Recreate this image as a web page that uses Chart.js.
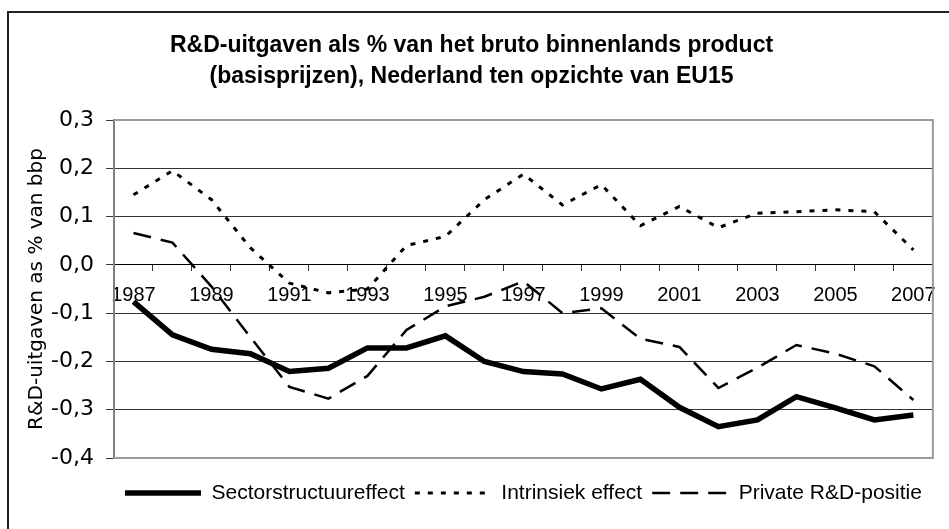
<!DOCTYPE html>
<html>
<head>
<meta charset="utf-8">
<script src="https://cdn.jsdelivr.net/npm/chart.js@4/dist/chart.umd.min.js"></script>
<style>
  body { margin: 0; background: #fff; }
  #wrap { width: 949px; height: 529px; position: relative; }
</style>
</head>
<body>
<div id="wrap"><canvas id="rdChart"></canvas></div>
<script>
const years = ["1987", "1988", "1989", "1990", "1991", "1992", "1993", "1994", "1995", "1996", "1997",
  "1998", "1999", "2000", "2001", "2002", "2003", "2004", "2005", "2006", "2007"];
const sectorEffect = [-0.076, -0.145, -0.175, -0.184, -0.221, -0.214, -0.172, -0.172, -0.147, -0.200, -0.221,
  -0.226, -0.257, -0.237, -0.295, -0.335, -0.321, -0.273, -0.296, -0.321, -0.311];
const intrinsicEffect = [0.145, 0.195, 0.135, 0.035, -0.038, -0.058, -0.050, 0.040, 0.059, 0.135, 0.188,
  0.124, 0.166, 0.081, 0.121, 0.077, 0.107, 0.110, 0.114, 0.110, 0.031];
const privatePosition = [0.066, 0.046, -0.045, -0.150, -0.253, -0.277, -0.230, -0.135, -0.086, -0.066, -0.034,
  -0.100, -0.090, -0.153, -0.170, -0.255, -0.213, -0.166, -0.184, -0.210, -0.280];
const yTickLabels = ["-0,4", "-0,3", "-0,2", "-0,1", "0,0", "0,1", "0,2", "0,3"];

const frame = {
  id: "frame",
  beforeDraw(chart) {
    const c = chart.ctx;
    c.save();
    c.fillStyle = "#fff";
    c.fillRect(0, 0, chart.width, chart.height);
    c.strokeStyle = "#222";
    c.lineWidth = 2;
    c.strokeRect(8, 12, chart.width + 20, chart.height + 20);
    c.restore();
  },
  beforeDatasetsDraw(chart) {
    const a = chart.chartArea;
    const c = chart.ctx;
    c.save();
    c.strokeStyle = "#9a9a9a";
    c.lineWidth = 2;
    c.beginPath();
    c.moveTo(a.left, a.top);
    c.lineTo(a.right, a.top);
    c.lineTo(a.right, a.bottom);
    c.lineTo(a.left, a.bottom);
    c.stroke();
    c.restore();
  }
};

// legend lines with the same dash as the dataset
function legendLabels(chart) {
  return chart.data.datasets.map((ds, i) => ({
    text: ds.label,
    datasetIndex: i,
    hidden: false,
    fillStyle: "#000",
    strokeStyle: "#000",
    fontColor: "#000",
    lineWidth: ds.borderWidth,
    lineDash: ds.borderDash || [],
    lineCap: "butt",
    pointStyle: "line"
  }));
}

const ctx = document.getElementById("rdChart").getContext("2d");

new Chart(ctx, {
  type: "line",
  data: {
    labels: years,
    datasets: [
      {
        label: "Sectorstructuureffect",
        data: sectorEffect,
        borderColor: "#000",
        backgroundColor: "#000",
        borderWidth: 5.5,
        pointRadius: 0,
        tension: 0
      },
      {
        label: "Intrinsiek effect",
        data: intrinsicEffect,
        borderColor: "#000",
        backgroundColor: "#000",
        borderWidth: 3,
        borderDash: [5, 8],
        pointRadius: 0,
        tension: 0
      },
      {
        label: "Private R&D-positie",
        data: privatePosition,
        borderColor: "#000",
        backgroundColor: "#000",
        borderWidth: 2.5,
        borderDash: [18, 10],
        pointRadius: 0,
        tension: 0
      }
    ]
  },
  options: {
    responsive: true,
    maintainAspectRatio: false,
    animation: false,
    layout: { padding: { left: 0, right: 6, top: 0, bottom: 15.5 } },
    plugins: {
      title: {
        display: true,
        text: ["R&D-uitgaven als % van het bruto binnenlands product",
          "(basisprijzen), Nederland ten opzichte van EU15"],
        color: "#000",
        font: { family: "'Liberation Sans', Arial, sans-serif", size: 23, weight: "bold", lineHeight: 31 / 23 },
        padding: { top: 30.5, bottom: 27.5 }
      },
      legend: {
        position: "bottom",
        fullSize: false,
        title: { display: true, text: "", padding: 0, font: { size: 10, lineHeight: 1.45 } },
        labels: {
          color: "#000",
          font: { family: "'Liberation Sans', Arial, sans-serif", size: 21 },
          usePointStyle: true,
          pointStyleWidth: 76,
          padding: 10,
          generateLabels: legendLabels
        }
      },
      tooltip: { enabled: false }
    },
    scales: {
      x: {
        type: "category",
        position: { y: 0 },
        offset: true,
        grid: { offset: true, drawOnChartArea: false, drawTicks: true, tickLength: 6, tickColor: "#333" },
        border: { display: true, color: "#000", width: 1 },
        ticks: {
          autoSkip: false,
          maxRotation: 0,
          padding: 13,
          color: "#000",
          font: { family: "'Liberation Sans', Arial, sans-serif", size: 20 },
          callback: (v, i) => (i % 2 === 0 ? years[i] : "")
        }
      },
      y: {
        min: -0.4,
        max: 0.3,
        afterFit: (scale) => { scale.width = 114; },
        grid: {
          color: (c) => (c.index === 0 || c.index === 7 ? "rgba(0,0,0,0)" : "#333"),
          lineWidth: 1,
          tickLength: 8,
          tickColor: "#333"
        },
        border: { display: true, color: "#808080", width: 2 },
        ticks: {
          stepSize: 0.1,
          padding: 12,
          color: "#000",
          font: { family: "'DejaVu Sans', Verdana, sans-serif", size: 22 },
          callback: (v) => yTickLabels[Math.round((v + 0.4) * 10)]
        },
        title: {
          display: true,
          text: "R&D-uitgaven as % van bbp",
          color: "#000",
          font: { family: "'DejaVu Sans', Verdana, sans-serif", size: 20 },
          padding: { top: 25, bottom: 0 }
        }
      }
    }
  },
  plugins: [frame]
});
</script>
</body>
</html>
